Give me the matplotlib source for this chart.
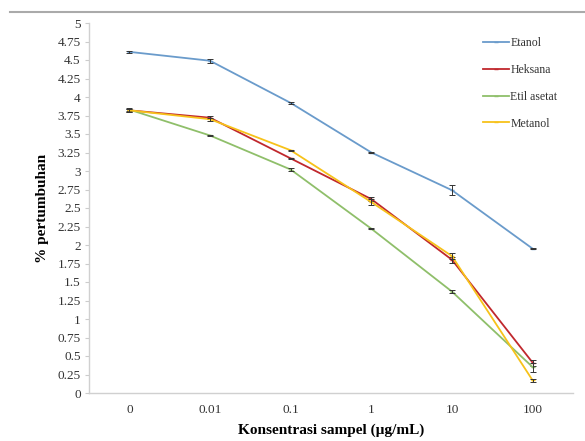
import matplotlib.pyplot as plt
import numpy as np

plt.rcParams['font.family'] = ['Liberation Serif', 'DejaVu Serif']

# data
konsentrasi = ['0', '0.01', '0.1', '1', '10', '100']
etanol = [4.61, 4.49, 3.92, 3.25, 2.74, 1.95]
etanol_err = [0.01, 0.03, 0.01, 0.01, 0.07, 0.01]
heksana = [3.82, 3.72, 3.17, 2.62, 1.80, 0.41]
heksana_err = [0.02, 0.02, 0.01, 0.03, 0.04, 0.04]
etil_asetat = [3.83, 3.48, 3.02, 2.22, 1.37, 0.35]
etil_asetat_err = [0.02, 0.01, 0.02, 0.01, 0.02, 0.06]
metanol = [3.82, 3.70, 3.28, 2.58, 1.85, 0.17]
metanol_err = [0.02, 0.02, 0.01, 0.04, 0.04, 0.02]

series = [
    ('Etanol', etanol, etanol_err, '#6a9bcb'),
    ('Heksana', heksana, heksana_err, '#c0282d'),
    ('Etil asetat', etil_asetat, etil_asetat_err, '#8fbf6a'),
    ('Metanol', metanol, metanol_err, '#f7c21a'),
]

fig = plt.figure(figsize=(5.85, 4.41), dpi=100)
ax = fig.add_axes([89/585, 48/441, (573-89)/585, (393-23)/441])

x = np.arange(len(konsentrasi))
for nama, vals, err, warna in series:
    ax.plot(x, vals, color=warna, lw=1.3, label=nama, marker='_', ms=3)
    ax.errorbar(x, vals, yerr=err, fmt='none', ecolor='#333333',
                elinewidth=0.7, capsize=2.2, capthick=0.7)

ax.set_xlim(-0.5, len(konsentrasi) - 0.5)
ax.set_ylim(0, 5)
ax.set_xticks(x)
ax.set_xticklabels(konsentrasi)
ax.set_yticks(np.arange(0, 5.01, 0.25))
ax.set_yticklabels([f'{v:g}' for v in np.arange(0, 5.01, 0.25)])
ax.tick_params(axis='x', length=0, pad=8, labelsize=9.5, colors='#333333')
ax.tick_params(axis='y', length=3, width=0.8, color='#cccccc', pad=3,
               labelsize=9.5, labelcolor='#333333')

for s in ['top', 'right']:
    ax.spines[s].set_visible(False)
for s in ['left', 'bottom']:
    ax.spines[s].set_color('#d0d0d0')
    ax.spines[s].set_linewidth(1.0)

ax.set_xlabel('Konsentrasi sampel (µg/mL)', fontsize=11, fontweight='bold', labelpad=5)
ax.set_ylabel('% pertumbuhan', fontsize=11, fontweight='bold', labelpad=6)

leg = ax.legend(loc='upper right', bbox_to_anchor=(0.99, 0.99), frameon=False,
                fontsize=8.5, handlelength=2.2, handletextpad=0.1,
                labelspacing=1.25)
for t in leg.get_texts():
    t.set_color('#333333')

# garis abu-abu di bagian atas gambar
fig.add_artist(plt.Line2D([10/585, 1], [1 - 12/441, 1 - 12/441],
                          color='#aaaaaa', lw=1.5, transform=fig.transFigure))

fig.savefig('out.png', dpi=100)
